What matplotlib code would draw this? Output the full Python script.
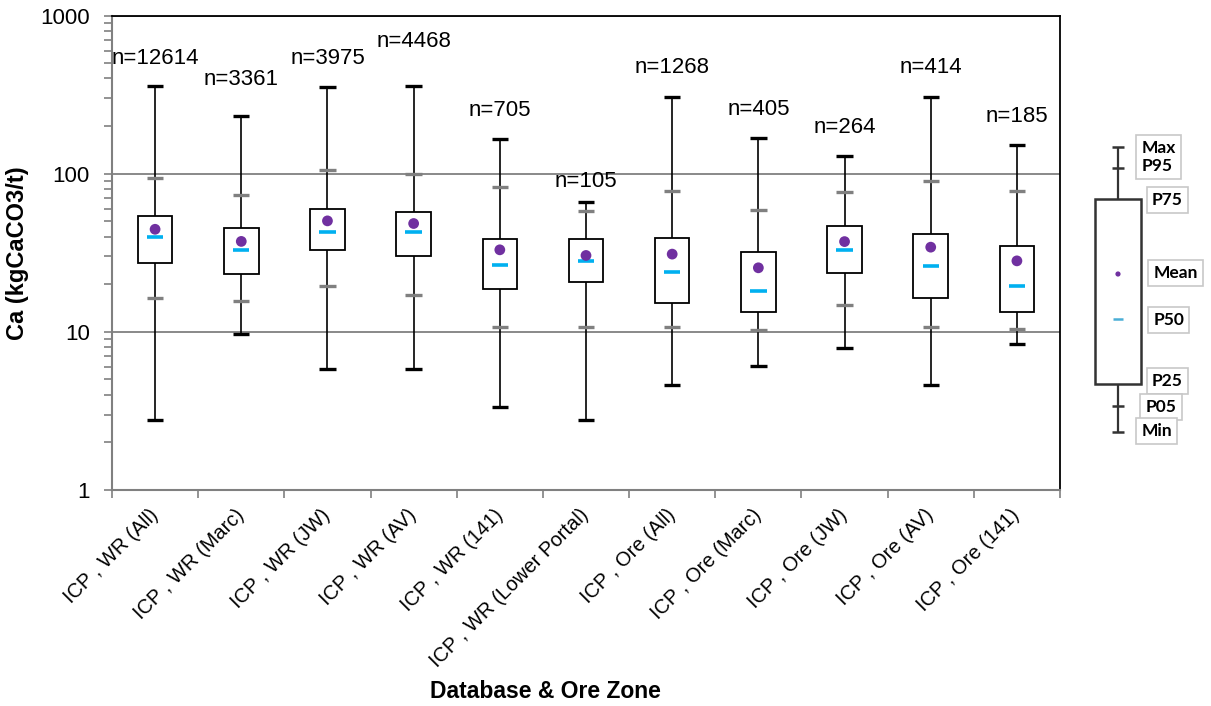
import numpy as np
import matplotlib
matplotlib.use("Agg")
import matplotlib.pyplot as plt
from matplotlib.ticker import FixedLocator, LogLocator, FuncFormatter, NullFormatter

plt.rcParams['font.family'] = ['Liberation Sans', 'DejaVu Sans']

# ---------------- DATA ----------------

groups = ["ICP , WR (All)", "ICP , WR (Marc)", "ICP , WR (JW)", "ICP , WR (AV)",
          "ICP , WR (141)", "ICP , WR (Lower Portal)", "ICP , Ore (All)",
          "ICP , Ore (Marc)", "ICP , Ore (JW)", "ICP , Ore (AV)", "ICP , Ore (141)"]
n_samples = [12614, 3361, 3975, 4468, 705, 105, 1268, 405, 264, 414, 185]

ca_min = [2.77, 9.67, 5.84, 5.84, 3.33, 2.77, 4.58, 6.07, 7.89, 4.58, 8.4]
ca_p05 = [16.3, 15.6, 19.5, 17.0, 10.7, 10.7, 10.7, 10.3, 14.7, 10.7, 10.4]
ca_p25 = [27.4, 23.3, 32.8, 30.2, 18.7, 20.6, 15.3, 13.3, 23.4, 16.3, 13.3]
ca_p50 = [39.5, 33.0, 42.8, 42.8, 26.4, 28.1, 23.8, 18.0, 33.0, 25.9, 19.5]
ca_mean = [44.5, 37.3, 50.3, 48.4, 33.0, 30.4, 31.0, 25.4, 37.2, 34.3, 28.1]
ca_p75 = [54.0, 45.2, 59.8, 57.6, 38.5, 38.5, 39.2, 32.2, 47.0, 41.8, 34.9]
ca_p95 = [94.0, 73.8, 105.0, 99.6, 82.8, 57.9, 78.2, 59.0, 76.6, 90.0, 78.2]
ca_max = [360, 232, 353, 360, 165, 66.6, 307, 168, 129, 307, 152]

# height of each n= label above its max cap, in pixels
label_lift = [22, 31, 23, 39, 23, 15, 24, 23, 23, 24, 23]

# schematic values for the key box (arbitrary units)
key_stats = dict(lo=18, p05=44, p25=66, p50=131, mean=176, p75=251, p95=282, hi=303)
key_labels = ["Max\nP95", "P75", "Mean", "P50", "P25", "P05", "Min"]
key_label_y = [293, 250, 177, 130, 69, 43, 19]
key_label_x = [0.47, 0.55, 0.56, 0.56, 0.55, 0.50, 0.47]

# ---------------- FIGURE ----------------

W, H = 1211, 706
fig = plt.figure(figsize=(W / 100, H / 100), dpi=100)
fig.patch.set_facecolor('white')

ax = fig.add_axes([112 / W, 1 - 490 / H, 948 / W, 474.5 / H])

x = np.arange(1, len(groups) + 1)
box_w = 0.40
tick_half = 0.095

# whiskers run min -> max, box sits on top
ax.vlines(x, ca_min, ca_max, color='black', lw=1.2, zorder=2)
ax.bar(x, np.array(ca_p75) - np.array(ca_p25), bottom=ca_p25, width=box_w,
       facecolor='white', edgecolor='black', linewidth=1.3, zorder=3)
ax.hlines(ca_max, x - tick_half, x + tick_half, color='black', lw=2.4, zorder=3)
ax.hlines(ca_min, x - tick_half, x + tick_half, color='black', lw=2.4, zorder=3)
ax.hlines(ca_p95, x - tick_half, x + tick_half, color='#808080', lw=2.4, zorder=3)
ax.hlines(ca_p05, x - tick_half, x + tick_half, color='#808080', lw=2.4, zorder=3)
ax.hlines(ca_p50, x - tick_half, x + tick_half, color='#00b0f0', lw=2.6, zorder=4)
ax.scatter(x, ca_mean, s=60, color='#7030a0', edgecolors='none', zorder=5)

for xi, n, top, lift in zip(x, n_samples, ca_max, label_lift):
    ax.annotate(f"n={n}", xy=(xi, top), xytext=(0, lift * 0.72),
                textcoords='offset points', ha='center', va='baseline',
                fontsize=16)

# ---------------- AXES ----------------

ax.set_yscale('log')
ax.set_ylim(1, 1000)
ax.set_xlim(0.5, len(groups) + 0.5)

ax.yaxis.set_major_locator(FixedLocator([1, 10, 100, 1000]))
ax.yaxis.set_major_formatter(FuncFormatter(lambda v, _: f"{v:g}"))
ax.yaxis.set_minor_locator(LogLocator(base=10, subs=np.arange(2, 10)))
ax.yaxis.set_minor_formatter(NullFormatter())
ax.tick_params(axis='y', which='both', direction='out', length=6,
               color='#808080', width=1.2, labelsize=16, pad=10)

ax.set_xticks(x)
ax.set_xticklabels(groups, rotation=45, ha='right', va='center',
                   rotation_mode='anchor', fontsize=14.5)
ax.set_xticks(np.arange(0.5, len(groups) + 1), minor=True)
ax.tick_params(axis='x', which='major', length=0, pad=16)
ax.tick_params(axis='x', which='minor', direction='out', length=6,
               color='#808080', width=1.2)

ax.grid(axis='y', which='major', color='#808080', lw=1.3)
ax.set_axisbelow(True)

for side in ['left', 'bottom']:
    ax.spines[side].set_color('#808080')
    ax.spines[side].set_linewidth(1.5)
for side in ['top', 'right']:
    ax.spines[side].set_color('black')
    ax.spines[side].set_linewidth(1.3)

ax.set_ylabel("Ca (kgCaCO3/t)", fontsize=17, fontweight='bold', labelpad=8)
fig.text(545 / W, 1 - 692 / H, "Database & Ore Zone", ha='center', va='center',
         fontsize=16.5, fontweight='bold')

# ---------------- KEY ----------------

kax = fig.add_axes([1080 / W, 1 - 450 / H, 131 / W, 320 / H])
kax.set_xlim(0, 1)
kax.set_ylim(0, 320)
kax.axis('off')

kx = 0.29
kc = 0.045
kax.vlines(kx, key_stats['lo'], key_stats['hi'], color='#333333', lw=1.6, zorder=2)
kax.bar(kx, key_stats['p75'] - key_stats['p25'], bottom=key_stats['p25'], width=0.356,
        facecolor='white', edgecolor='#333333', linewidth=1.8, zorder=3)
kax.hlines([key_stats['hi'], key_stats['lo'], key_stats['p95'], key_stats['p05']],
           kx - kc, kx + kc, color='#333333', lw=1.8, zorder=3)
kax.hlines(key_stats['p50'], kx - 0.04, kx + 0.04, color='#4aaed6', lw=1.8, zorder=4)
kax.scatter(kx, key_stats['mean'], s=14, color='#7030a0', edgecolors='none', zorder=5)

for i, (lab, ly, lx) in enumerate(zip(key_labels, key_label_y, key_label_x)):
    kax.text(lx, ly, lab, ha='left', va='center', fontsize=12.5, fontweight='bold',
             family=['Lato', 'DejaVu Sans'], linespacing=1.15, zorder=6 + i,
             bbox=dict(boxstyle='square,pad=0.3', facecolor='white',
                       edgecolor='#c8c8c8', linewidth=1.2))

fig.savefig("out.png", dpi=100)
